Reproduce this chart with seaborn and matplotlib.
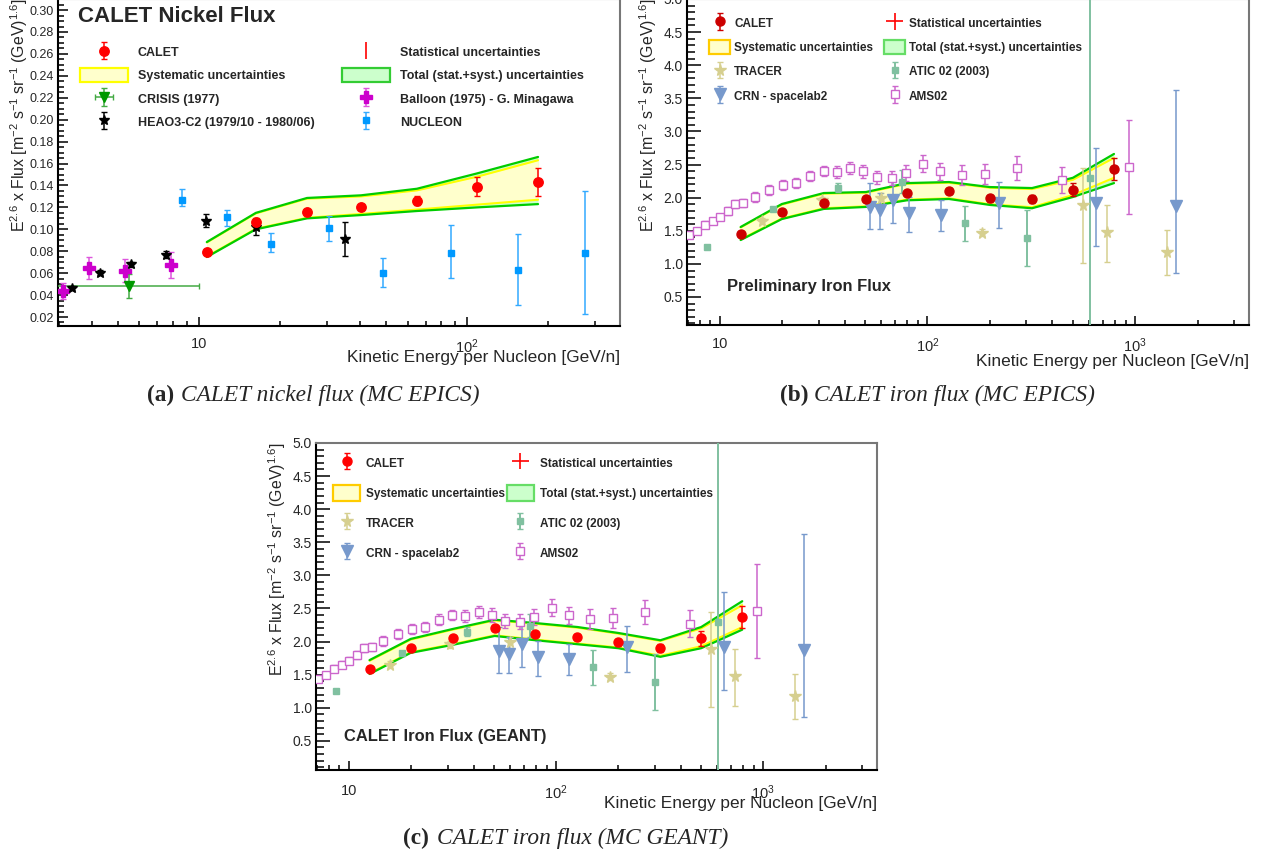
import numpy as np
import matplotlib
matplotlib.use("Agg")
import matplotlib.pyplot as plt
from matplotlib.patches import Patch
from matplotlib.container import ErrorbarContainer
from matplotlib.legend_handler import HandlerErrorbar
from matplotlib.ticker import FixedLocator, MultipleLocator, LogLocator, FuncFormatter, NullFormatter
import seaborn as sns

sns.set_theme(style="ticks")
plt.rcParams['font.family'] = ['Liberation Sans', 'DejaVu Sans']
plt.rcParams['mathtext.fontset'] = 'custom'
plt.rcParams['mathtext.rm'] = 'Liberation Sans'
plt.rcParams['mathtext.it'] = 'Liberation Sans:italic'
plt.rcParams['mathtext.bf'] = 'Liberation Sans:bold'

# === (a) nickel: CALET points and uncertainty band ===
ni_e = [10.7, 16.3, 25.3, 40.2, 65.0, 109.0, 184.0]
ni_flux = [0.079, 0.107, 0.116, 0.120, 0.126, 0.139, 0.143]
ni_stat = [0.002, 0.003, 0.002, 0.002, 0.004, 0.0087, 0.0130]
ni_tot_hi = [0.0884, 0.115, 0.1286, 0.131, 0.137, 0.151, 0.166]
ni_tot_lo = [0.0747, 0.100, 0.110, 0.113, 0.1167, 0.120, 0.123]
ni_sys_hi = [0.0880, 0.1145, 0.128, 0.130, 0.1355, 0.148, 0.163]
ni_sys_lo = [0.0752, 0.1005, 0.1105, 0.114, 0.118, 0.1225, 0.127]

# other nickel measurements
crisis_e = [5.48]
crisis_flux = [0.048]
crisis_err = [0.011]
crisis_bin_lo = [2.5]
crisis_bin_hi = [10.0]

balloon_e = [3.11, 3.89, 5.30, 7.86]
balloon_flux = [0.0437, 0.0647, 0.062, 0.0674]
balloon_err = [0.007, 0.010, 0.0105, 0.012]

heao_e = [3.36, 4.27, 5.57, 7.54, 10.6, 16.3, 35.1]
heao_flux = [0.0465, 0.0605, 0.068, 0.077, 0.108, 0.102, 0.091]
heao_err = [0.002, 0.002, 0.002, 0.003, 0.006, 0.007, 0.0155]

nucleon_e = [8.64, 12.7, 18.6, 30.5, 48.6, 87.1, 155.0, 275.0]
nucleon_flux = [0.127, 0.111, 0.087, 0.101, 0.060, 0.078, 0.063, 0.078]
nucleon_lo = [0.006, 0.008, 0.008, 0.012, 0.0127, 0.0228, 0.032, 0.055]
nucleon_hi = [0.010, 0.007, 0.0096, 0.011, 0.0137, 0.026, 0.033, 0.057]

# === (b), (c) iron: CALET points and bands ===
fe_e = [12.6, 19.9, 31.7, 50.6, 79.6, 127.0, 200.0, 319.0, 502.0, 792.0]

feb_flux = [1.45, 1.78, 1.92, 1.98, 2.07, 2.10, 1.99, 1.98, 2.12, 2.43]
feb_stat = [0.02, 0.02, 0.02, 0.03, 0.03, 0.04, 0.05, 0.06, 0.10, 0.17]
feb_tot_hi = [1.557, 1.904, 2.07, 2.085, 2.22, 2.236, 2.16, 2.145, 2.30, 2.66]
feb_tot_lo = [1.36, 1.677, 1.83, 1.86, 1.96, 1.98, 1.89, 1.84, 2.01, 2.22]
feb_sys_hi = [1.55, 1.895, 2.06, 2.075, 2.21, 2.225, 2.15, 2.13, 2.27, 2.60]
feb_sys_lo = [1.37, 1.685, 1.84, 1.87, 1.97, 1.99, 1.90, 1.855, 2.04, 2.30]

fec_flux = [1.59, 1.90, 2.06, 2.20, 2.12, 2.07, 1.99, 1.90, 2.05, 2.37]
fec_stat = [0.02, 0.02, 0.02, 0.03, 0.03, 0.04, 0.05, 0.06, 0.11, 0.17]
fec_tot_hi = [1.72, 2.04, 2.19, 2.33, 2.28, 2.22, 2.13, 2.02, 2.22, 2.61]
fec_tot_lo = [1.51, 1.83, 1.95, 2.085, 2.02, 1.96, 1.90, 1.77, 1.90, 2.18]
fec_sys_hi = [1.71, 2.03, 2.18, 2.32, 2.27, 2.21, 2.12, 2.01, 2.20, 2.55]
fec_sys_lo = [1.52, 1.84, 1.96, 2.095, 2.03, 1.97, 1.91, 1.785, 1.93, 2.22]

# other iron measurements (same in b and c)
tracer_e = [15.9, 30.9, 59.7, 183.0, 561.0, 733.0, 1427.0]
tracer_flux = [1.65, 1.96, 1.99, 1.47, 1.89, 1.48, 1.18]
tracer_lo = [0.05, 0.05, 0.08, 0.05, 0.88, 0.45, 0.35]
tracer_hi = [0.05, 0.05, 0.08, 0.05, 0.56, 0.41, 0.33]

atic_e = [8.65, 18.0, 37.1, 75.3, 151.0, 302.0, 607.0]
atic_flux = [1.26, 1.83, 2.15, 2.24, 1.62, 1.39, 2.30]
atic_lo = [0.02, 0.03, 0.07, 0.17, 0.27, 0.42, 2.5]
atic_hi = [0.02, 0.03, 0.07, 0.18, 0.26, 0.42, 2.9]

crn_e = [52.8, 59.1, 68.2, 81.5, 116.0, 221.0, 649.0, 1578.0]
crn_flux = [1.86, 1.81, 1.96, 1.77, 1.74, 1.92, 1.92, 1.87]
crn_lo = [0.33, 0.28, 0.34, 0.29, 0.24, 0.38, 0.65, 1.01]
crn_hi = [0.36, 0.26, 0.35, 0.24, 0.22, 0.32, 0.83, 1.75]

ams_e = [7.08, 7.74, 8.47, 9.25, 10.0, 10.9, 11.9, 12.9, 14.7, 17.3, 20.2, 23.4,
         27.2, 31.6, 36.5, 42.3, 49.0, 56.9, 67.2, 78.7, 95.3, 115.0, 146.0,
         189.0, 269.0, 445.0, 935.0]
ams_flux = [1.44, 1.50, 1.59, 1.65, 1.71, 1.80, 1.90, 1.92, 2.01, 2.115, 2.19, 2.22,
            2.33, 2.40, 2.39, 2.45, 2.40, 2.31, 2.30, 2.37, 2.51, 2.40, 2.34,
            2.36, 2.45, 2.27, 2.46]
ams_err = [0.04, 0.04, 0.05, 0.05, 0.05, 0.06, 0.06, 0.06, 0.07, 0.07, 0.07, 0.08,
           0.08, 0.08, 0.09, 0.09, 0.10, 0.10, 0.11, 0.12, 0.13, 0.13, 0.15,
           0.15, 0.18, 0.20, 0.71]

ylabel = r'E$^{2.6}$ x Flux [m$^{-2}$ s$^{-1}$ sr$^{-1}$ (GeV)$^{1.6}$]'
xlabel = 'Kinetic Energy per Nucleon [GeV/n]'

# === Figure layout in pixels ===
W, H = 1281, 858
fig = plt.figure(figsize=(W / 100, H / 100), dpi=100)


def box(left, top, right, bottom):
    return [left / W, 1 - bottom / H, (right - left) / W, (bottom - top) / H]


def fxy(x, y):
    return x / W, 1 - y / H


ax_a = fig.add_axes(box(58, -1, 620, 326))
ax_b = fig.add_axes(box(687, -1, 1249, 325))
ax_c = fig.add_axes(box(316, 443, 877, 770))

err_handler = {ErrorbarContainer: HandlerErrorbar(xerr_size=0.7)}


def decade_label(v, pos):
    if np.isclose(v, 10):
        return '10'
    return r'$10^{%d}$' % round(np.log10(v))


def style_axes(ax, xlim, ylim, xmajor, ystep, yminor, yfmt, ysize, ymaj_len, ymin_len,
               w_px, h_px, xlab_off, xpad):
    ax.set_xscale('log')
    ax.set_xlim(*xlim)
    ax.set_ylim(*ylim)
    ax.xaxis.set_major_locator(FixedLocator(xmajor))
    ax.xaxis.set_minor_locator(LogLocator(base=10, subs=np.arange(2, 10), numticks=30))
    ax.xaxis.set_major_formatter(FuncFormatter(decade_label))
    ax.xaxis.set_minor_formatter(NullFormatter())
    ax.yaxis.set_major_locator(MultipleLocator(ystep))
    ax.yaxis.set_minor_locator(MultipleLocator(yminor))
    ax.yaxis.set_major_formatter(FuncFormatter(lambda v, _: yfmt % v))
    ax.tick_params(axis='both', which='both', direction='in', top=False, right=False,
                   color='black', width=1.1)
    ax.tick_params(axis='y', which='major', length=ymaj_len, labelsize=ysize, pad=3)
    ax.tick_params(axis='y', which='minor', length=ymin_len)
    ax.tick_params(axis='x', which='major', length=6.5, labelsize=10.5, pad=xpad)
    ax.tick_params(axis='x', which='minor', length=3.8)
    for side in ('left', 'bottom'):
        ax.spines[side].set_color('black')
        ax.spines[side].set_linewidth(1.5)
    for side in ('top', 'right'):
        ax.spines[side].set_color('#777777')
        ax.spines[side].set_linewidth(1.5)
    ax.set_facecolor('white')
    ax.set_ylabel(ylabel, loc='top', fontsize=11.4)
    ax.yaxis.set_label_coords(-28 / w_px, 1.0)
    ax.set_xlabel(xlabel, loc='right', fontsize=12.4)
    ax.xaxis.set_label_coords(1.0, -xlab_off / h_px)


def draw_band(ax, e, tot_lo, tot_hi, sys_lo, sys_hi):
    ax.fill_between(e, tot_lo, tot_hi, color='#ccffcc', lw=0, zorder=1)
    ax.fill_between(e, sys_lo, sys_hi, color='#ffffcc', lw=0, zorder=1.1)
    for arr in (sys_lo, sys_hi):
        sns.lineplot(x=e, y=arr, ax=ax, color='#ffff00', lw=1.5, estimator=None, zorder=1.2)
    for arr in (tot_lo, tot_hi):
        sns.lineplot(x=e, y=arr, ax=ax, color='#00cc00', lw=1.6, estimator=None, zorder=1.3)


def points(ax, e, y, lo, hi, fmt, color, ms, label, mfc=None, ecolor=None, elw=1.1, z=3, mew=1.0):
    return ax.errorbar(e, y, yerr=[lo, hi], fmt=fmt, color=color, ms=ms,
                       mfc=mfc if mfc is not None else color, mec=color, mew=mew,
                       ecolor=ecolor if ecolor is not None else color,
                       elinewidth=elw, capsize=2, capthick=elw, label=label, zorder=z)


# === (a) CALET nickel flux ===
style_axes(ax_a, (2.98, 372), (0.0118, 0.3101), [10, 100], 0.02, 0.005, '%.2f', 9,
           7.2, 4.6, 562, 327, 24, 8)
draw_band(ax_a, ni_e, ni_tot_lo, ni_tot_hi, ni_sys_lo, ni_sys_hi)
h_crisis = ax_a.errorbar(crisis_e, crisis_flux, yerr=crisis_err,
                         xerr=[np.subtract(crisis_e, crisis_bin_lo), np.subtract(crisis_bin_hi, crisis_e)],
                         fmt='v', color='#009900', ms=7, ecolor='#44aa44', elinewidth=1.1,
                         capsize=2, label='CRISIS (1977)', zorder=3)
h_balloon = points(ax_a, balloon_e, balloon_flux, balloon_err, balloon_err, 'P', '#cc00cc', 8.5,
                   'Balloon (1975) - G. Minagawa', ecolor='#dd55dd')
h_heao = points(ax_a, heao_e, heao_flux, heao_err, heao_err, '*', 'black', 7.5,
                'HEAO3-C2 (1979/10 - 1980/06)')
h_nucleon = points(ax_a, nucleon_e, nucleon_flux, nucleon_lo, nucleon_hi, 's', '#0099ff', 4.5,
                   'NUCLEON', ecolor='#33aaff')
h_calet_a = points(ax_a, ni_e, ni_flux, ni_stat, ni_stat, 'o', '#ff0000', 6.8, 'CALET', z=5)
h_stat_a = ax_a.errorbar([], [], yerr=[], fmt='none', ecolor='#ff0000', elinewidth=1.2,
                         capsize=3, capthick=1.2)
h_sys_a = Patch(facecolor='#ffffcc', edgecolor='#ffff00', lw=1.6)
h_tot_a = Patch(facecolor='#ccffcc', edgecolor='#33cc33', lw=1.6)

x0, y0 = fxy(80, 45)
ax_a.legend([h_calet_a, h_sys_a, h_crisis, h_heao, h_stat_a, h_tot_a, h_balloon, h_nucleon],
            ['CALET', 'Systematic uncertainties', 'CRISIS (1977)', 'HEAO3-C2 (1979/10 - 1980/06)',
             'Statistical uncertainties', 'Total (stat.+syst.) uncertainties',
             'Balloon (1975) - G. Minagawa', 'NUCLEON'],
            loc='upper left', bbox_to_anchor=(x0, y0), bbox_transform=fig.transFigure,
            ncol=2, frameon=False, borderpad=0, borderaxespad=0, handler_map=err_handler,
            prop=dict(weight='bold', size=9), handlelength=3.84, handleheight=1.3,
            handletextpad=0.8, columnspacing=2.2, labelspacing=0.74)
tx, ty = fxy(78, 17)
fig.text(tx, ty, 'CALET Nickel Flux', fontsize=16, fontweight='bold', va='center', ha='left')


# === (b) and (c) CALET iron flux ===
def iron_panel(ax, flux, stat, tot_lo, tot_hi, sys_lo, sys_hi, calet_color, ylim, xlab_off, xpad,
               leg_xy, leg_opts, note, note_xy, note_size):
    style_axes(ax, (6.95, 3540), ylim, [10, 100, 1000], 0.5, 0.1, '%.1f', 10,
               10, 5.5, 562, 327, xlab_off, xpad)
    draw_band(ax, fe_e, tot_lo, tot_hi, sys_lo, sys_hi)
    h_atic = points(ax, atic_e, atic_flux, atic_lo, atic_hi, 's', '#80c0a0', 4.5, 'ATIC 02 (2003)',
                    elw=1.4)
    h_tracer = points(ax, tracer_e, tracer_flux, tracer_lo, tracer_hi, '*', '#d6cf8f', 8.5, 'TRACER')
    h_crn = points(ax, crn_e, crn_flux, crn_lo, crn_hi, 'v', '#7799cc', 8, 'CRN - spacelab2')
    h_ams = points(ax, ams_e, ams_flux, ams_err, ams_err, 's', '#cc66cc', 6.4, 'AMS02', mfc='white')
    h_calet = points(ax, fe_e, flux, stat, stat, 'o', calet_color, 6.5, 'CALET', z=5)
    h_stat = ax.errorbar([], [], xerr=[], yerr=[], fmt='none', ecolor='#ff0000', elinewidth=1.2,
                         capsize=2, capthick=1.2)
    h_sys = Patch(facecolor='#ffffcc', edgecolor='#ffcc00', lw=1.6)
    h_tot = Patch(facecolor='#ccffcc', edgecolor='#66dd66', lw=1.6)
    lx, ly = fxy(*leg_xy)
    ax.legend([h_calet, h_sys, h_tracer, h_crn, h_stat, h_tot, h_atic, h_ams],
              ['CALET', 'Systematic uncertainties', 'TRACER', 'CRN - spacelab2',
               'Statistical uncertainties', 'Total (stat.+syst.) uncertainties',
               'ATIC 02 (2003)', 'AMS02'],
              loc='upper left', bbox_to_anchor=(lx, ly), bbox_transform=fig.transFigure,
              ncol=2, frameon=False, borderpad=0, borderaxespad=0, handler_map=err_handler,
              prop=dict(weight='bold', size=8.5), **leg_opts)
    nx, ny = fxy(*note_xy)
    fig.text(nx, ny, note, fontsize=note_size, fontweight='bold', va='center', ha='left')


iron_panel(ax_b, feb_flux, feb_stat, feb_tot_lo, feb_tot_hi, feb_sys_lo, feb_sys_hi, '#cc0000',
           (0.077, 5.0), 29, 8.5, (709, 16),
           dict(handlelength=1.78, handleheight=1.36, handletextpad=0.34, columnspacing=0.93,
                labelspacing=0.91),
           'Preliminary Iron Flux', (727, 287), 11.9)
iron_panel(ax_c, fec_flux, fec_stat, fec_tot_lo, fec_tot_hi, fec_sys_lo, fec_sys_hi, '#ff0000',
           (0.06, 5.0), 26, 10, (333, 455),
           dict(handlelength=2.29, handleheight=1.7, handletextpad=0.5, columnspacing=0.17,
                labelspacing=1.19),
           'CALET Iron Flux (GEANT)', (344, 737), 11.9)

# === Captions ===
captions = [('(a)', 'CALET nickel flux (MC EPICS)', 147, 181, 395),
            ('(b)', 'CALET iron flux (MC EPICS)', 780, 814, 395),
            ('(c)', 'CALET iron flux (MC GEANT)', 403, 437, 838)]
for tag, text, x_tag, x_text, y in captions:
    fig.text(*fxy(x_tag, y), tag, fontfamily='Liberation Serif', fontweight='bold',
             fontsize=16.8, va='center', ha='left')
    fig.text(*fxy(x_text, y), text, fontfamily='Liberation Serif', fontstyle='italic',
             fontsize=16.8, va='center', ha='left')

fig.savefig('out.png', dpi=100, facecolor='white')
